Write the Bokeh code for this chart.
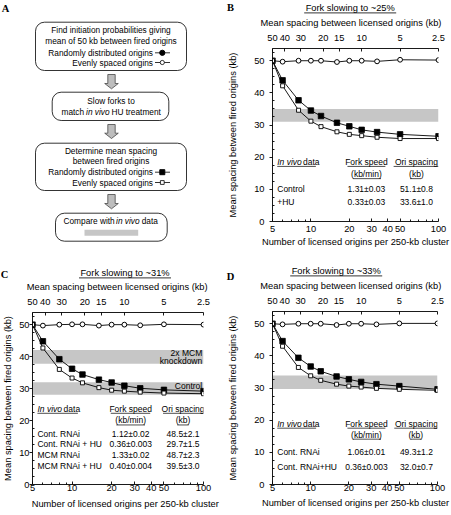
import math
from bokeh.plotting import figure
from bokeh.models import Range1d, LogAxis, FixedTicker, CustomJSTickFormatter, Label
from bokeh.layouts import row, column
from bokeh.embed import file_html
from bokeh.resources import INLINE
from bokeh.core.properties import value

FONT = "Liberation Sans"
SERIF = "Liberation Serif"

# ---------------- data ----------------
origins_per_cluster = [5, 6, 8, 10, 12, 16, 20, 25, 33, 50, 100]
x_ticks = [5, 10, 20, 30, 40, 50, 100]
x_minor_ticks = [6, 7, 8, 9, 60, 70, 80, 90]
licensed_spacing_kb = [50, 40, 30, 20, 15, 10, 5, 2.5]
cluster_size_kb = 250
y_ticks = [0, 10, 20, 30, 40, 50]
y_minor_ticks = [2.5, 5, 7.5, 12.5, 15, 17.5, 22.5, 25, 27.5, 32.5, 35, 37.5, 42.5, 45, 47.5, 52.5]
y_top = 53.8

b_title = "Fork slowing to ~25%"
b_even_circles = [50, 49.7, 50, 50, 50, 49.6, 50, 50, 49.8, 50.3, 50.2]
b_random_squares = [50, 43.9, 37.7, 34.5, 32.8, 30.7, 29.6, 28.5, 27.8, 27.1, 26.5]
b_even_squares = [50, 42.2, 34.6, 31.2, 29.5, 27.9, 27.1, 26.7, 26.2, 25.8, 25.8]
b_bands = [(31.0, 35.0)]
b_rows = ["Control", "+HU"]
b_fork = ["1.31\u00b10.03", "0.33\u00b10.03"]
b_ori = ["51.1\u00b10.8", "33.6\u00b11.0"]

c_title = "Fork slowing to ~31%"
c_even_circles = [50, 49.7, 50, 50.1, 50.1, 49.7, 50, 50, 49.8, 50.1, 50]
c_random_squares = [50, 44.8, 39.2, 36.2, 34.4, 32.8, 31.9, 30.9, 30.1, 29.6, 29.2]
c_even_squares = [50, 42.7, 36.0, 33.3, 31.8, 30.3, 29.5, 29.2, 28.9, 28.6, 28.4]
c_bands = [(37.8, 42.1), (28.1, 32.0)]
c_band_labels = ["2x MCM", "knockdown", "Control"]
c_rows = ["Cont. RNAi", "Cont. RNAi + HU", "MCM RNAi", "MCM RNAi + HU"]
c_fork = ["1.12\u00b10.02", "0.36\u00b10.003", "1.33\u00b10.02", "0.40\u00b10.004"]
c_ori = ["48.5\u00b12.1", "29.7\u00b11.5", "48.7\u00b12.3", "39.5\u00b13.0"]

d_title = "Fork slowing to ~33%"
d_even_circles = [50, 49.8, 50, 50, 50, 49.6, 50, 50, 49.8, 50.1, 50.1]
d_random_squares = [50, 44.6, 39.4, 36.7, 35.2, 33.6, 32.7, 31.9, 31.2, 30.6, 29.6]
d_even_squares = [50, 43.0, 36.4, 33.8, 32.4, 31.2, 30.6, 30.3, 29.9, 29.6, 29.3]
d_bands = [(29.7, 33.9)]
d_rows = ["Cont. RNAi", "Cont. RNAi+HU"]
d_fork = ["1.06\u00b10.01", "0.36\u00b10.003"]
d_ori = ["49.3\u00b11.2", "32.0\u00b10.7"]

x_axis_title = "Number of licensed origins per 250-kb cluster"
y_axis_title = "Mean spacing between fired origins (kb)"
top_axis_title = "Mean spacing between licensed origins (kb)"

# ---------------- layout helpers (reference-pixel placement of annotations) ----------------
CAL = {"B": (263.3, 134.5, 221.0, 3.234),
       "C": (30.0, 133.2, 484.3, 3.206),
       "D": (263.3, 133.7, 484.3, 3.22)}


def dx(k, px):
    x0, dec, _, _ = CAL[k]
    return 5 * 10 ** ((px - x0) / dec)


def dy(k, py):
    _, _, y0, ppu = CAL[k]
    return (y0 - py) / ppu


LAY = {
    "B": dict(header_y=161, sub_y=173.3, rows_y=[188.3, 201], label_x=268.3, data_x=295.5,
              ivd_ul=(268.3, 309), fork_cx=362.3, fork_ul=(342.3, 382.3), kbmin_ul=(348.3, 377.7),
              ori_cx=415, ori_ul=(391, 438.3), kb_cx=415, kb_ul=(408.3, 420)),
    "C": dict(header_y=408.3, sub_y=420, rows_y=[433.3, 443.3, 455, 466], label_x=35, data_x=61.5,
              ivd_ul=(35, 76), fork_cx=129.5, fork_ul=(109.3, 149.3), kbmin_ul=(115, 144),
              ori_cx=182.6, ori_ul=(162.3, 203.2), kb_cx=182.5, kb_ul=(176.7, 188.3)),
    "D": dict(header_y=423.3, sub_y=434.3, rows_y=[451.7, 466.7], label_x=268.3, data_x=295.5,
              ivd_ul=(268.3, 309.3), fork_cx=362.3, fork_ul=(342.3, 382.3), kbmin_ul=(348.3, 377.7),
              ori_cx=415, ori_ul=(391.7, 437.3), kb_cx=414.3, kb_ul=(409.3, 420)),
}

# title strips: (letter xy, title xy, underline y, top-axis title xy) in strip pixels
STRIP = {
    "B": dict(w=225, h=29, letter=(5, 6.7), title=(124.7, 7.7), ul=12.4, axis=(125.5, 22.4)),
    "C": dict(w=225, h=34, letter=(4, 15.7), title=(124.5, 14.7), ul=19.4, axis=(116.7, 28.4)),
    "D": dict(w=225, h=34, letter=(5, 17.5), title=(110.7, 12.7), ul=17.4, axis=(125.3, 27.7)),
}
# bottom strips carrying the x-axis title (strip pixels)
BOTTOM = {"C": (124.7, 7.3), "D": (130.0, 6.7)}

TSZ = "8.5px"
ASZ = "9.3px"
LW = 0.9


def style_axis(ax, tick_in, tick_out, minor_in, label_standoff, axis_standoff):
    ax.axis_line_color = "black"
    ax.axis_line_width = LW
    ax.major_tick_line_color = "black"
    ax.major_tick_line_width = LW
    ax.minor_tick_line_color = "black"
    ax.minor_tick_line_width = LW
    ax.major_tick_in = tick_in
    ax.major_tick_out = tick_out
    ax.minor_tick_in = minor_in
    ax.minor_tick_out = 0
    ax.major_label_text_font = FONT
    ax.major_label_text_font_size = ASZ
    ax.major_label_text_color = "black"
    ax.axis_label_text_font = FONT
    ax.axis_label_text_font_size = ASZ
    ax.axis_label_text_font_style = "normal"
    ax.axis_label_text_color = "black"
    ax.major_label_standoff = label_standoff
    ax.axis_label_standoff = axis_standoff


def add_text(p, k, txt, px, py, align="left", italic=False, size=TSZ):
    p.add_layout(Label(x=dx(k, px), y=dy(k, py), text=txt, text_align=align,
                       text_baseline="middle", text_font=FONT, text_font_size=size,
                       text_font_style="italic" if italic else "normal", text_color="black"))


def blank(w, h):
    s = figure(width=w, height=h, x_range=Range1d(0, w), y_range=Range1d(h, 0),
               output_backend="svg", toolbar_location=None, min_border=0,
               x_axis_location=None, y_axis_location=None)
    s.frame_align = False
    s.grid.visible = False
    s.outline_line_color = None
    return s


def strip(k, title):
    S = STRIP[k]
    s = blank(S["w"], S["h"])
    s.text(x=[S["letter"][0]], y=[S["letter"][1]], text=[k], text_font=value(SERIF),
           text_font_style="bold", text_font_size="10.5px", text_align="center",
           text_baseline="middle", text_color="black")
    s.text(x=[S["title"][0], S["axis"][0]], y=[S["title"][1], S["axis"][1]],
           text=[title, top_axis_title], text_font=value(FONT), text_font_size=ASZ,
           text_align="center", text_baseline="middle", text_color="black")
    s.segment(x0=[S["title"][0] - 46], x1=[S["title"][0] + 46], y0=[S["ul"]], y1=[S["ul"]],
              line_color="black", line_width=0.8)
    return s


def bottom_strip(k):
    s = blank(225, 18)
    bx, by = BOTTOM[k]
    s.text(x=[bx], y=[by], text=[x_axis_title], text_font=value(FONT), text_font_size=ASZ,
           text_align="center", text_baseline="middle", text_color="black")
    return s


def build(k, width, height, borders, even_c, rand_s, even_s, bands, rows, fork, ori,
          compact, band_labels=None):
    bl, br, bt, bb = borders
    p = figure(width=width, height=height, x_axis_type="log",
               x_range=Range1d(5, 100), y_range=Range1d(0, y_top),
               output_backend="svg", toolbar_location=None,
               min_border_left=bl, min_border_right=br, min_border_top=bt, min_border_bottom=bb)
    p.frame_align = False
    p.grid.visible = False
    p.outline_line_color = None

    xa = p.xaxis[0]
    xa.ticker = FixedTicker(ticks=x_ticks, minor_ticks=x_minor_ticks)
    xa.formatter = CustomJSTickFormatter(code="return String(tick);")
    if compact:
        style_axis(xa, 3, 0, 2, 0, 0)
    else:
        xa.axis_label = x_axis_title
        style_axis(xa, 3, 0, 2, 4, 2)

    ya = p.yaxis[0]
    ya.ticker = FixedTicker(ticks=y_ticks, minor_ticks=y_minor_ticks)
    ya.axis_label = y_axis_title
    if k == "C":
        style_axis(ya, 0, 3, 2, 0, 3)
    else:
        style_axis(ya, 0, 3, 2, 5, 13)

    top_ticks = [cluster_size_kb / s for s in licensed_spacing_kb]
    ta = LogAxis(ticker=FixedTicker(ticks=top_ticks),
                 formatter=CustomJSTickFormatter(args=dict(size=cluster_size_kb),
                                                 code="return String(Math.round(size / tick * 10) / 10);"))
    style_axis(ta, 3, 0, 0, 8, 0)
    p.add_layout(ta, "above")

    # grey in vivo bands
    p.quad(left=[5] * len(bands), right=[100] * len(bands),
           bottom=[b[0] for b in bands], top=[b[1] for b in bands],
           fill_color="#c6c6c6", line_color=None)

    L = LAY[k]
    # table of in vivo data
    add_text(p, k, "In vivo", L["label_x"], L["header_y"], italic=True)
    add_text(p, k, "data", L["data_x"], L["header_y"])
    add_text(p, k, "Fork speed", L["fork_cx"], L["header_y"], align="center")
    add_text(p, k, "Ori spacing", L["ori_cx"], L["header_y"], align="center")
    add_text(p, k, "(kb/min)", L["fork_cx"], L["sub_y"], align="center")
    add_text(p, k, "(kb)", L["kb_cx"], L["sub_y"], align="center")
    rules = [(L["ivd_ul"], L["header_y"]), (L["fork_ul"], L["header_y"]), (L["ori_ul"], L["header_y"]),
             (L["kbmin_ul"], L["sub_y"]), (L["kb_ul"], L["sub_y"])]
    p.segment(x0=[dx(k, r[0][0]) for r in rules], x1=[dx(k, r[0][1]) for r in rules],
              y0=[dy(k, r[1] + 4.6) for r in rules], y1=[dy(k, r[1] + 4.6) for r in rules],
              line_color="black", line_width=0.7)
    for name, f, o, ry in zip(rows, fork, ori, L["rows_y"]):
        add_text(p, k, name, L["label_x"], ry)
        add_text(p, k, f, L["fork_cx"], ry, align="center")
        add_text(p, k, o, L["ori_cx"], ry, align="center")

    if band_labels:
        for txt, py in zip(band_labels, [352.3, 360.3, 385.7]):
            add_text(p, k, txt, 202, py, align="right")

    # curves
    p.line(origins_per_cluster, even_c, line_color="black", line_width=LW)
    p.scatter(origins_per_cluster, even_c, marker="circle", size=4.8,
              fill_color="white", line_color="black", line_width=1.0)
    p.line(origins_per_cluster, rand_s, line_color="black", line_width=LW)
    p.line(origins_per_cluster, even_s, line_color="black", line_width=LW)
    p.scatter(origins_per_cluster, rand_s, marker="square", size=5.5,
              fill_color="black", line_color="black", line_width=0.8)
    p.scatter(origins_per_cluster, even_s, marker="square", size=4.0,
              fill_color="white", line_color="black", line_width=0.9)
    return p


tb = strip("B", b_title)
pb = build("B", 225, 229, (38, 12, 19, 37), b_even_circles, b_random_squares,
           b_even_squares, b_bands, b_rows, b_fork, b_ori, compact=False)
tc = strip("C", c_title)
pc = build("C", 225, 204, (30, 22, 20, 12), c_even_circles, c_random_squares,
           c_even_squares, c_bands, c_rows, c_fork, c_ori, compact=True, band_labels=c_band_labels)
bc = bottom_strip("C")
td = strip("D", d_title)
pd = build("D", 225, 204, (38, 13, 19, 12), d_even_circles, d_random_squares,
           d_even_squares, d_bands, d_rows, d_fork, d_ori, compact=True)
bd = bottom_strip("D")

# ---------------- panel A: flow chart ----------------
pa = blank(225, 258)

box_left = [35, 51.7, 35, 55]
box_right = [186, 168.3, 186, 166.7]
box_top = [21.7, 91.7, 142.7, 212.7]
box_bottom = [70, 120, 190, 240.7]
pa.quad(left=box_left, right=box_right, top=box_top, bottom=box_bottom,
        fill_color="white", line_color="black", line_width=0.8, border_radius=9)

arrow_spans = [(74, 88.3), (124, 138), (194, 208.3)]
axs, ays = [], []
cx = 111
for t, b in arrow_spans:
    axs.append([cx - 3.7, cx + 3.7, cx + 3.7, cx + 6.8, cx, cx - 6.8, cx - 3.7])
    ays.append([t, t, b - 5.3, b - 5.3, b, b - 5.3, b - 5.3])
pa.patches(axs, ays, fill_color="#bdbdbd", line_color="#333333", line_width=0.7)

asz = "8.3px"
pa.text(x=[110.5, 110.5, 110.5, 110.5, 110.5],
        y=[29.3, 40, 100, 150, 160.3],
        text=["Find initiation probabilities giving", "mean of 50 kb between fired origins",
              "Slow forks to", "Determine mean spacing", "between fired origins"],
        text_font=value(FONT), text_font_size=asz, text_align="center",
        text_baseline="middle", text_color="black")
pa.text(x=[152.5] * 4, y=[52.3, 62, 171.7, 182],
        text=["Randomly distributed origins", "Evenly spaced origins",
              "Randomly distributed origins", "Evenly spaced origins"],
        text_font=value(FONT), text_font_size=asz, text_align="right",
        text_baseline="middle", text_color="black")
pa.text(x=[61.0, 111.0, 63.0, 141.2], y=[111, 111, 220.7, 220.7],
        text=["match", "HU treatment", "Compare with", "data"],
        text_font=value(FONT), text_font_size=asz, text_align="left",
        text_baseline="middle", text_color="black")
pa.text(x=[85.6, 115.6], y=[111, 220.7], text=["in vivo", "in vivo"],
        text_font=value(FONT), text_font_size=asz, text_font_style="italic",
        text_align="left", text_baseline="middle", text_color="black")
leg_y = [52.3, 62, 171.7, 182]
pa.segment(x0=[154.5] * 4, x1=[169.5] * 4, y0=leg_y, y1=leg_y, line_color="black", line_width=0.8)
pa.scatter([161.8], [52.3], marker="circle", size=5.2, fill_color="black", line_color="black")
pa.scatter([161.8], [62], marker="circle", size=4.2, fill_color="white", line_color="black", line_width=0.8)
pa.scatter([161.8], [171.7], marker="square", size=5.0, fill_color="black", line_color="black")
pa.scatter([161.8], [182], marker="square", size=3.8, fill_color="white", line_color="black", line_width=0.8)
pa.quad(left=[84], right=[137.7], top=[229.3], bottom=[235.3], fill_color="#c6c6c6", line_color=None)
pa.text(x=[5], y=[8], text=["A"], text_font=value(SERIF), text_font_style="bold",
        text_font_size="10.5px", text_align="center", text_baseline="middle", text_color="black")

layout = column(row(pa, column(tb, pb)), row(column(tc, pc, bc), column(td, pd, bd)))
open("out.html", "w").write(file_html(layout, INLINE))
